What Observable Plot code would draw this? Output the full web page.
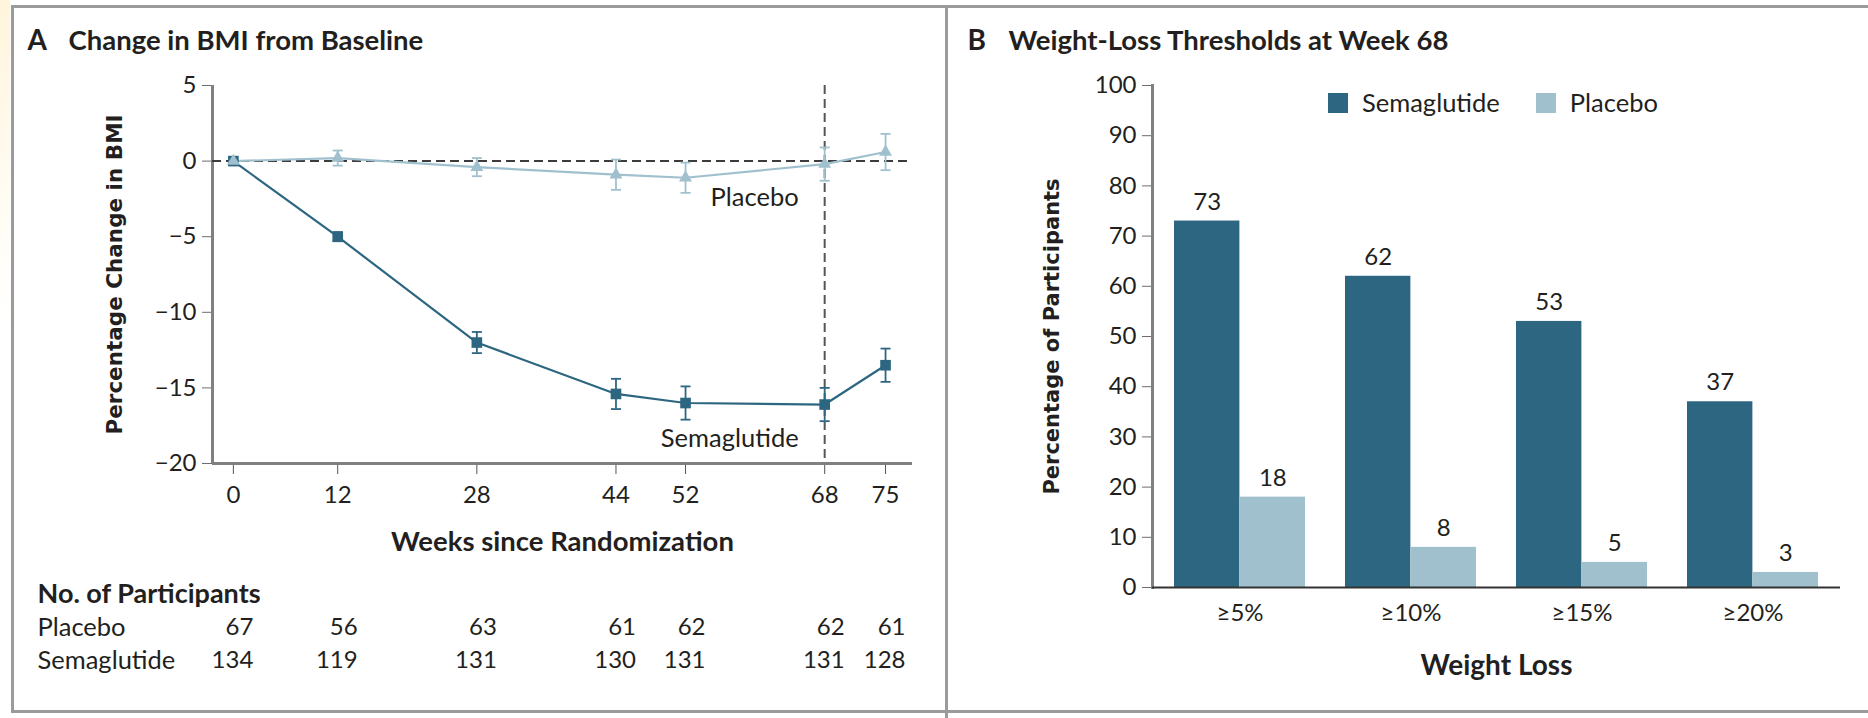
<!DOCTYPE html>
<html>
<head>
<meta charset="utf-8">
<script src="https://cdn.jsdelivr.net/npm/d3@7"></script>
<script src="https://cdn.jsdelivr.net/npm/@observablehq/plot@0.6"></script>
<style>
  html, body { margin: 0; padding: 0; background: #fff; }
  #fig { position: relative; width: 1868px; height: 718px; overflow: hidden; background: #fff;
         font-family: Lato, "Noto Sans", sans-serif; color: #231f20; }
  .line { position: absolute; background: #9b9b9b; }
  .legend { position: absolute; display: flex; align-items: center; font-size: 25.5px; white-space: nowrap; line-height: 1; }
  .legend .sw { width: 20px; height: 20px; margin-right: 14px; }
  .legend .item { display: flex; align-items: center; margin-right: 36px; }
  svg { position: absolute; overflow: visible; }
</style>
</head>
<body>
<div id="fig"></div>
<script>
// ---- Panel A: change in BMI from baseline (mean with 95% CI) ----
const weeks = [0, 12, 28, 44, 52, 68, 75];
const placeboChange = [0, 0.2, -0.4, -0.9, -1.1, -0.2, 0.6];
const placeboCI = [0, 0.5, 0.6, 1.0, 1.0, 1.1, 1.2];
const semaChange = [0, -5.0, -12.0, -15.4, -16.0, -16.1, -13.5];
const semaCI = [0, 0.3, 0.7, 1.0, 1.1, 1.1, 1.1];
const placeboN = [67, 56, 63, 61, 62, 62, 61];
const semaN = [134, 119, 131, 130, 131, 131, 128];
const bmiTicks = [5, 0, -5, -10, -15, -20];
const endpointWeek = 68;

// ---- Panel B: weight-loss thresholds at week 68 ----
const thresholds = ["≥5%", "≥10%", "≥15%", "≥20%"];
const semaPct = [73, 62, 53, 37];
const placeboPct = [18, 8, 5, 3];
const pctTicks = [0, 10, 20, 30, 40, 50, 60, 70, 80, 90, 100];

const groups = ["Semaglutide", "Placebo"];
const palette = ["#2d6680", "#a0c0ce"];
const colorOf = Object.fromEntries(groups.map((g, i) => [g, palette[i]]));

const ink = "#231f20";
const font = "Lato, 'Noto Sans', sans-serif";
const yTitleFont = "'DejaVu Sans', Verdana, sans-serif";
const tickSize = 24;      // tick labels and counts
const labelSize = 25.5;   // series and row labels
const titleSize = 27.5;   // bold headings

const fig = document.getElementById("fig");
function place(el, left, top) {
  el.style.position = "absolute";
  el.style.left = left + "px";
  el.style.top = top + "px";
  fig.appendChild(el);
}
function rule(left, top, w, h) {
  const d = document.createElement("div");
  d.className = "line";
  d.style.width = w + "px"; d.style.height = h + "px";
  place(d, left, top);
}

// outer box and panel divider
const tint = document.createElement("div");
tint.style.width = "10px"; tint.style.height = "330px";
tint.style.background = "linear-gradient(#fff5dc, #fffdf6 70%, #ffffff)";
place(tint, 0, 0);
rule(11, 5, 1857, 3);
rule(11, 5, 3, 708);
rule(11, 710, 1857, 3);
rule(945, 5, 3, 713);

// ---------------- Panel A ----------------
const series = [
  ...weeks.map((w, i) => ({group: "Placebo", week: w, value: placeboChange[i], ci: placeboCI[i], n: placeboN[i]})),
  ...weeks.map((w, i) => ({group: "Semaglutide", week: w, value: semaChange[i], ci: semaCI[i], n: semaN[i]}))
];
const placebo = series.filter(d => d.group === "Placebo");
const sema = series.filter(d => d.group === "Semaglutide");

// horizontal cap used on the error bars
const capSymbol = {
  draw(ctx, size) {
    const r = Math.sqrt(size / Math.PI);
    ctx.moveTo(-r, 0);
    ctx.lineTo(r, 0);
  }
};

const xDomainA = [-2.4, 78.1];
const yMinA = d3.min(bmiTicks), yMaxA = d3.max(bmiTicks);
const color = {domain: groups, range: palette};
const plotStyle = {fontFamily: font, fontSize: tickSize + "px", color: ink, background: "transparent", overflow: "visible"};

const chartA = Plot.plot({
  width: 946, height: 560,
  marginLeft: 212, marginRight: 34, marginTop: 85, marginBottom: 97,
  style: plotStyle,
  x: {domain: xDomainA},
  y: {domain: [yMinA, yMaxA]},
  color,
  marks: [
    Plot.axisY(bmiTicks, {tickSize: 10, tickPadding: 6, stroke: "#6d6d6d", fill: ink, label: null, fontSize: tickSize}),
    Plot.axisX(weeks, {tickSize: 11, tickPadding: 11, stroke: "#555", fill: ink, label: null, fontSize: tickSize}),
    Plot.ruleX([xDomainA[0]], {stroke: "#808080", strokeWidth: 3}),
    Plot.ruleY([yMinA], {stroke: "#808080", strokeWidth: 3}),
    Plot.ruleY([0], {stroke: "#3c3c3c", strokeWidth: 2, strokeDasharray: "9,5"}),
    Plot.ruleX([endpointWeek], {stroke: "#555", strokeWidth: 2, strokeDasharray: "9,5"}),
    Plot.line(placebo, {x: "week", y: "value", stroke: "group", strokeWidth: 2.2}),
    Plot.line(sema, {x: "week", y: "value", stroke: "group", strokeWidth: 2.2}),
    Plot.ruleX(series, {x: "week", y1: d => d.value - d.ci, y2: d => d.value + d.ci, stroke: "group", strokeWidth: 1.8}),
    Plot.dot(series, {x: "week", y: d => d.value + d.ci, symbol: capSymbol, r: 5, stroke: "group", strokeWidth: 1.8}),
    Plot.dot(series, {x: "week", y: d => d.value - d.ci, symbol: capSymbol, r: 5, stroke: "group", strokeWidth: 1.8}),
    Plot.dot(sema, {x: "week", y: "value", symbol: "square", r: 6, fill: "group", stroke: null}),
    Plot.dot(placebo, {x: "week", y: "value", symbol: "triangle", r: 4.8, fill: "group", stroke: null}),
    // series labels sit below each line, just left of the week-68 marker
    Plot.text(series.filter(d => d.week === endpointWeek), {
      x: "week", y: "value", text: "group", textAnchor: "end", lineAnchor: "middle",
      dx: -26, dy: 34, fill: ink, fontSize: labelSize
    }),
    // panel title
    Plot.text(["A"], {frameAnchor: "top-left", textAnchor: "start", lineAnchor: "middle", dx: -185, dy: -44,
      fontWeight: 700, fontSize: 28, fill: ink}),
    Plot.text(["Change in BMI from Baseline"], {frameAnchor: "top-left", textAnchor: "start", lineAnchor: "middle",
      dx: -144, dy: -44, fontWeight: 700, fontSize: titleSize, fill: ink}),
    // axis titles
    Plot.text(["Percentage Change in BMI"], {frameAnchor: "left", rotate: -90, textAnchor: "middle", lineAnchor: "middle",
      dx: -97, fontFamily: yTitleFont, fontWeight: 700, fontSize: 21.5, fill: ink}),
    Plot.text(["Weeks since Randomization"], {frameAnchor: "bottom", textAnchor: "middle", lineAnchor: "middle",
      dy: 79, fontWeight: 700, fontSize: titleSize, fill: ink})
  ]
});
place(chartA, 0, 0);

// number of participants under each week
const tableRows = ["Placebo", "Semaglutide"];
const tableA = Plot.plot({
  width: 946, height: 150,
  marginLeft: 212, marginRight: 34, marginTop: 0, marginBottom: 0,
  style: plotStyle,
  x: {domain: xDomainA, axis: null},
  y: {type: "point", domain: tableRows, range: [67, 100], padding: 0, axis: null},
  marks: [
    Plot.text(series, {x: "week", y: "group", text: d => String(d.n), textAnchor: "end", lineAnchor: "middle",
      dx: 20, fill: ink, fontSize: tickSize}),
    Plot.text(tableRows, {y: d => d, text: d => d, frameAnchor: "left", textAnchor: "start", lineAnchor: "middle",
      dx: -175, fill: ink, fontSize: labelSize}),
    Plot.text(["No. of Participants"], {frameAnchor: "top-left", textAnchor: "start", lineAnchor: "middle",
      dx: -175, dy: 34, fontWeight: 700, fontSize: 27, fill: ink})
  ]
});
place(tableA, 0, 560);

// ---------------- Panel B ----------------
const bars = thresholds.flatMap((t, i) => [
  {threshold: t, group: "Semaglutide", pct: semaPct[i]},
  {threshold: t, group: "Placebo", pct: placeboPct[i]}
]);
const xB = {type: "band", domain: thresholds, range: [206, 894], paddingInner: 0.234, paddingOuter: 0.125};
const half = Plot.scale({x: xB}).bandwidth / 2;
const semaBars = bars.filter(d => d.group === "Semaglutide");
const placeboBars = bars.filter(d => d.group === "Placebo");

const chartB = Plot.plot({
  width: 922, height: 700,
  marginLeft: 206, marginRight: 28, marginTop: 85, marginBottom: 113,
  style: plotStyle,
  x: xB,
  y: {domain: [0, 100]},
  color,
  marks: [
    Plot.axisY(pctTicks, {tickSize: 10, tickPadding: 6, stroke: "#6d6d6d", fill: ink, label: null, fontSize: tickSize}),
    Plot.axisX({tickSize: 0, tickPadding: 16, fill: ink, label: null, fontSize: tickSize}),
    Plot.barY(semaBars, {x: "threshold", y: "pct", fill: "group", insetRight: half}),
    Plot.barY(placeboBars, {x: "threshold", y: "pct", fill: "group", insetLeft: half}),
    Plot.frame({anchor: "left", stroke: "#808080", strokeWidth: 3}),
    Plot.ruleY([0], {stroke: "#333", strokeWidth: 2.2}),
    Plot.text(semaBars, {x: "threshold", y: "pct", text: d => String(d.pct), dx: -half / 2, dy: -19,
      lineAnchor: "middle", fill: ink, fontSize: tickSize}),
    Plot.text(placeboBars, {x: "threshold", y: "pct", text: d => String(d.pct), dx: half / 2, dy: -19,
      lineAnchor: "middle", fill: ink, fontSize: tickSize}),
    Plot.text(["B"], {frameAnchor: "top-left", textAnchor: "start", lineAnchor: "middle", dx: -185, dy: -44,
      fontWeight: 700, fontSize: 28, fill: ink}),
    Plot.text(["Weight-Loss Thresholds at Week 68"], {frameAnchor: "top-left", textAnchor: "start", lineAnchor: "middle",
      dx: -144, dy: -44, fontWeight: 700, fontSize: titleSize, fill: ink}),
    Plot.text(["Percentage of Participants"], {frameAnchor: "left", rotate: -90, textAnchor: "middle", lineAnchor: "middle",
      dx: -100, fontFamily: yTitleFont, fontWeight: 700, fontSize: 21, fill: ink}),
    Plot.text(["Weight Loss"], {frameAnchor: "bottom", textAnchor: "middle", lineAnchor: "middle",
      dy: 79, fontWeight: 700, fontSize: 28, fill: ink})
  ]
});
place(chartB, 946, 0);

// legend
const legend = document.createElement("div");
legend.className = "legend";
for (const g of groups) {
  const item = document.createElement("div");
  item.className = "item";
  const sw = document.createElement("div");
  sw.className = "sw";
  sw.style.background = colorOf[g];
  const label = document.createElement("span");
  label.textContent = g;
  item.append(sw, label);
  legend.append(item);
}
place(legend, 1328, 90);
</script>
</body>
</html>
